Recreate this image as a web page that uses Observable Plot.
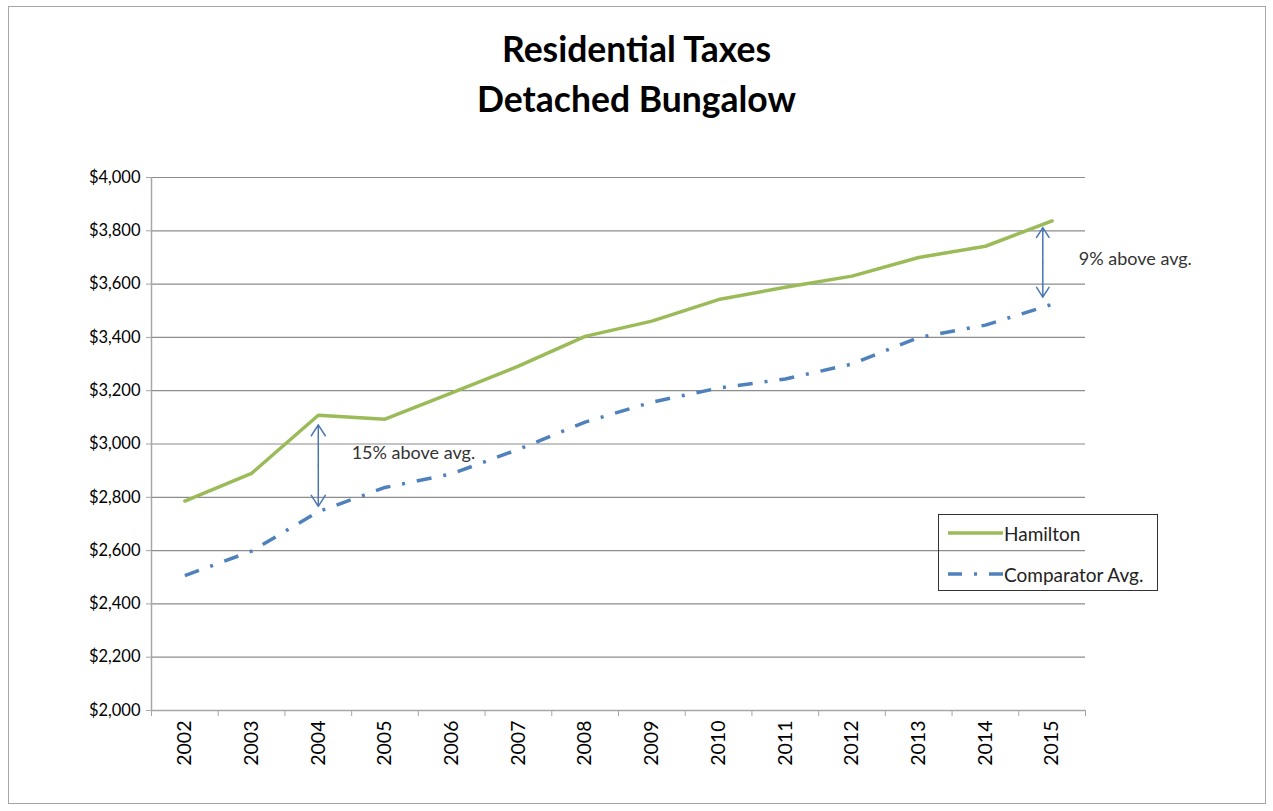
<!DOCTYPE html>
<html>
<head>
<meta charset="utf-8">
<script src="https://cdn.jsdelivr.net/npm/d3@7"></script>
<script src="https://cdn.jsdelivr.net/npm/@observablehq/plot@0.6"></script>
<style>
  body { margin: 0; background: #fff; font-family: Lato, "Open Sans", sans-serif; }
  #wrap { position: relative; width: 1273px; height: 811px; overflow: hidden; }
  #frame { position: absolute; left: 8px; top: 6px; width: 1258px; height: 798px; border: 1px solid #a6a6a6; box-sizing: border-box; pointer-events: none; }
  #title { position: absolute; left: 0; top: 0; width: 1273px; height: 140px; text-align: center; font-family: Lato, sans-serif; font-weight: 700; font-size: 35.5px; line-height: 50px; color: #000; padding-top: 24px; box-sizing: border-box; }
  #chart { position: absolute; left: 0; top: 140px; }
  #legend { position: absolute; left: 938px; top: 514px; width: 220px; height: 77px; border: 1.5px solid #333; box-sizing: border-box; font-family: Lato, sans-serif; font-size: 19px; color: #222; }
  .item { position: absolute; left: 9px; height: 22px; display: flex; align-items: center; white-space: nowrap; }
  .item svg { margin-right: 1px; }
</style>
</head>
<body>
<div id="wrap">
  <div id="title">Residential Taxes<br>Detached Bungalow</div>
  <div id="chart"></div>
  <div id="legend"></div>
  <div id="frame"></div>
</div>
<script>
const years = [2002, 2003, 2004, 2005, 2006, 2007, 2008, 2009, 2010, 2011, 2012, 2013, 2014, 2015];
const hamilton = [2786, 2890, 3108, 3093, 3192, 3292, 3404, 3461, 3542, 3588, 3630, 3700, 3742, 3837];
const comparator = [2506, 2598, 2746, 2837, 2888, 2980, 3082, 3157, 3210, 3244, 3300, 3400, 3446, 3524];
const yTicks = [2000, 2200, 2400, 2600, 2800, 3000, 3200, 3400, 3600, 3800, 4000];
const seriesNames = ["Hamilton", "Comparator Avg."];
const annotLabels = ["15% above avg.", "9% above avg."];
const annotYears = [2004, 2014.86];
const annotTop = [3072, 3812];
const annotBottom = [2766, 3551];
const annotTextX = [2004.5, 2015.4];
const annotTextY = [2964, 3692];

const green = "#9bbb59";
const blue = "#4f81bd";
const dash = "15,12,3,12";

const ham = years.map((y, i) => ({year: y, value: hamilton[i]}));
const comp = years.map((y, i) => ({year: y, value: comparator[i]}));
const boundaries = [years[0] - 0.5, ...years.map(y => y + 0.5)];
const annots = annotLabels.map((t, i) => ({
  label: t, x: annotYears[i], top: annotTop[i], bottom: annotBottom[i],
  mid: (annotTop[i] + annotBottom[i]) / 2, tx: annotTextX[i], ty: annotTextY[i]
}));
const fmt = d => "$" + d3.format(",")(d);

const chart = Plot.plot({
  width: 1273,
  height: 671,
  marginTop: 37,
  marginBottom: 101,
  marginLeft: 151,
  marginRight: 188,
  style: {fontFamily: "Lato, sans-serif", fontSize: "16px", color: "#000", background: "transparent"},
  x: {type: "linear", domain: [years[0] - 0.5, years[years.length - 1] + 0.5]},
  y: {domain: [2000, 4000]},
  marks: [
    Plot.gridY(yTicks, {stroke: "#8c8c8c", strokeOpacity: 1, strokeWidth: 1.2}),
    Plot.ruleX([boundaries[0]], {stroke: "#a6a6a6", strokeWidth: 1.5}),
    Plot.ruleY([2000], {stroke: "#a6a6a6", strokeWidth: 1.5, x1: boundaries[0], x2: boundaries[boundaries.length - 1]}),
    Plot.axisY({ticks: yTicks, tickSize: 5, tickPadding: 6, tickFormat: fmt, label: null, fontSize: 16.5, stroke: "#a6a6a6"}),
    Plot.axisX({ticks: boundaries, tickSize: 6, tickFormat: () => "", label: null, stroke: "#a6a6a6"}),
    Plot.axisX({ticks: years, tickSize: 0, tickPadding: 10, tickRotate: -90, tickFormat: d => String(d), label: null, fontSize: 19.5}),
    Plot.line(comp, {x: "year", y: "value", stroke: blue, strokeWidth: 3.5, strokeDasharray: dash, strokeLinecap: "butt"}),
    Plot.line(ham, {x: "year", y: "value", stroke: green, strokeWidth: 3.5}),
    Plot.arrow(annots, {x: "x", y1: "mid", y2: "top", stroke: "#4a76b5", strokeWidth: 1.5, headLength: 13, headAngle: 65}),
    Plot.arrow(annots, {x: "x", y1: "mid", y2: "bottom", stroke: "#4a76b5", strokeWidth: 1.5, headLength: 13, headAngle: 65}),
    Plot.text(annots, {x: "tx", y: "ty", text: "label", textAnchor: "start", fontSize: 18, fill: "#333"})
  ]
});
document.getElementById("chart").appendChild(chart);

// legend
const legend = document.getElementById("legend");
const styles = [{stroke: green, dash: null}, {stroke: blue, dash: "14,12,3,12"}];
seriesNames.forEach((name, i) => {
  const item = document.createElement("div");
  item.className = "item";
  item.style.top = (i === 0 ? 7 : 48) + "px";
  const s = styles[i];
  item.innerHTML = `<svg width="55" height="8"><line x1="0" y1="4" x2="55" y2="4" stroke="${s.stroke}" stroke-width="3.5" ${s.dash ? `stroke-dasharray="${s.dash}"` : ""}/></svg><span>${name}</span>`;
  legend.appendChild(item);
});
</script>
</body>
</html>
